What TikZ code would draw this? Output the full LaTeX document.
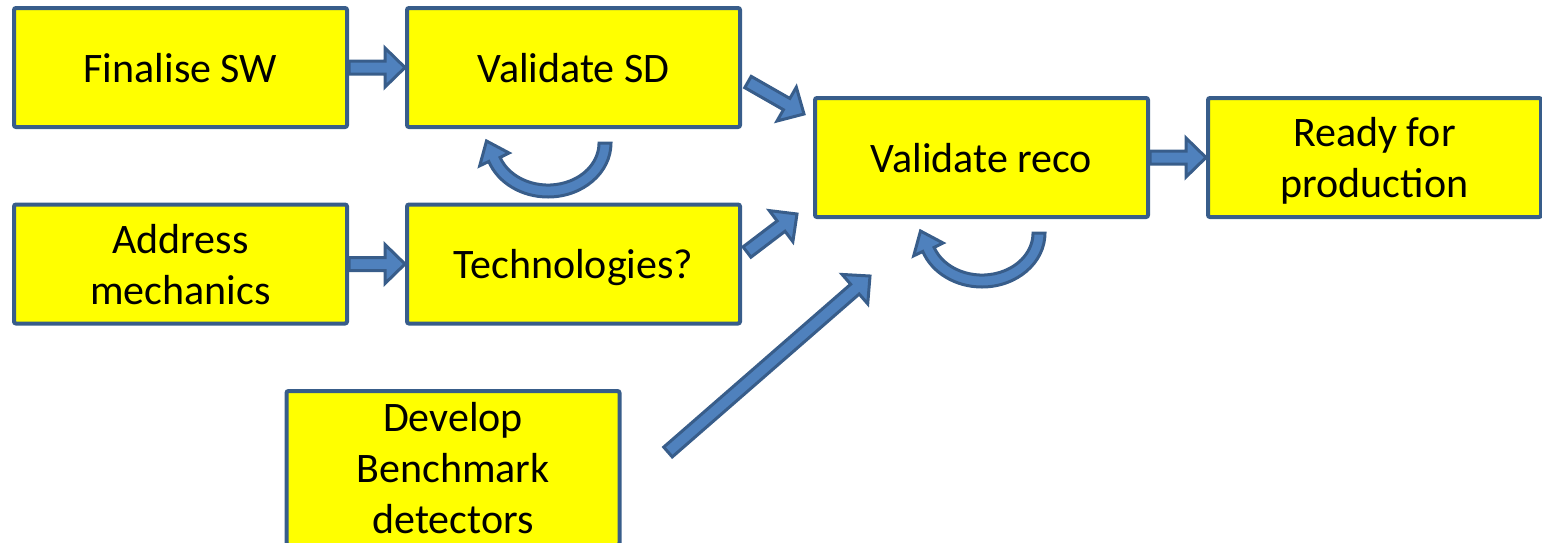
\documentclass[tikz,border=0pt]{standalone}
\usepackage{fontspec}
\setmainfont{Carlito}
\usetikzlibrary{calc}

\definecolor{boxfill}{RGB}{255,255,0}
\definecolor{boxline}{HTML}{385D8A}
\definecolor{arrowfill}{HTML}{4F81BD}

\newcommand{\blockarrow}[2]{%
  \coordinate (neck) at ($(#2)!20pt!(#1)$);
  \draw[blockarrow] ($(#1)!6.5pt!-90:(#2)$) -- ($(neck)!6.5pt!-90:(#2)$)
    -- ($(neck)!19.5pt!-90:(#2)$) -- (#2) -- ($(neck)!19.5pt!90:(#2)$)
    -- ($(neck)!6.5pt!90:(#2)$) -- ($(#1)!6.5pt!90:(#2)$) -- cycle;}

\begin{document}
\begin{tikzpicture}[x=1pt, y=-1pt,
          yellowbox/.style={rectangle, draw=boxline, fill=boxfill, line width=4pt,
            rounded corners=2pt, minimum width=333pt, minimum height=119pt,
            align=center, font=\fontsize{42}{51}\selectfont, text depth=0pt},
          blockarrow/.style={draw=boxline, fill=arrowfill, line width=3pt},
          turnarrow/.pic={
            \draw[blockarrow] (63,0) arc[start angle=0, end angle=160, x radius=63, y radius=54]
              -- (-68.3,22.8) -- (-61.5,-2.0) -- (-38.9,10.0) -- (-47.9,14.4)
              arc[start angle=160, end angle=0, x radius=51, y radius=42] -- cycle;}]

        \useasboundingbox (0,0) rectangle (1542,542);

        \node[yellowbox] (finsw)   at (180.5,67.5)  {Finalise SW};
        \node[yellowbox] (valsd)   at (573.5,67.5)  {Validate SD};
        \node[yellowbox] (addmech) at (180.5,264)   {Address\\mechanics};
        \node[yellowbox] (techno)  at (573.5,264)   {Technologies?};
        \node[yellowbox] (valreco) at (981.5,157.5) {Validate reco};
        \node[yellowbox] (ready)   at (1374.5,157.5) {Ready for\\production};
        \node[yellowbox, minimum height=154pt] (bench) at (453,468) {Develop\\Benchmark\\detectors};

        \coordinate (sdout)    at (748,82);
        \coordinate (sdin)     at (804,114);
        \coordinate (techout)  at (747,252);
        \coordinate (techin)   at (797,214);
        \coordinate (benchout) at (668,452);
        \coordinate (benchin)  at (870,276);

        \blockarrow{finsw.east}{valsd.west}
        \blockarrow{addmech.east}{techno.west}
        \blockarrow{valreco.east}{ready.west}
        \blockarrow{sdout}{sdin}
        \blockarrow{techout}{techin}
        \blockarrow{benchout}{benchin}

        \pic at (548,143) {turnarrow};
        \pic at (982,233) {turnarrow};

      \end{tikzpicture}
\end{document}
